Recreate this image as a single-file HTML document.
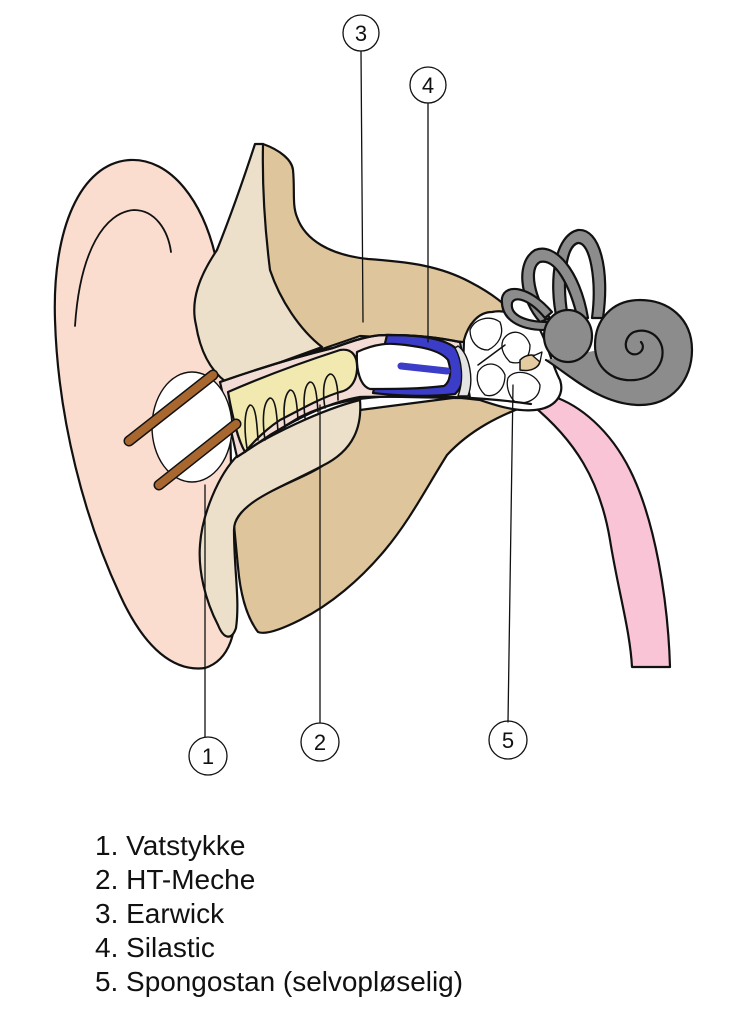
<!DOCTYPE html>
<html><head><meta charset="utf-8"><style>
html,body{margin:0;padding:0;background:#fff;}
svg{display:block;}
</style></head><body>
<svg width="751" height="1024" viewBox="0 0 751 1024" xmlns="http://www.w3.org/2000/svg" font-family="Liberation Sans, sans-serif">
<g stroke="#111" stroke-width="2.2" stroke-linejoin="round" stroke-linecap="round">
<!-- pink tube -->
<path d="M531,404 C575,440 600,480 610,540 C618,590 630,630 632,667 L670,667 C668,600 655,520 630,470 C610,430 580,405 552,396 Z" fill="#f8c4d6"/>
<!-- outer ear -->
<path d="M218,268 C205,200 170,158 130,160 C80,163 52,230 55,320 C58,420 85,520 120,595 C145,650 175,672 205,668 C230,660 238,630 234,600 L230,420 Z" fill="#fbddd0"/>
<path d="M75,326 C80,250 105,212 134,210 C155,210 168,230 171,252" fill="none" stroke-width="1.8"/>
<!-- upper tan -->
<path d="M263,144 C280,150 292,160 293,170 C295,190 292,205 297,217 C305,240 330,255 368,259 C410,262 440,266 470,282 C495,295 505,305 512,312 L500,335 L464,342 L360,336 L226,382 L217,250 Z" fill="#dfc59b"/>
<!-- light beige tragus -->
<path d="M255,144 C240,190 225,230 217,250 C200,275 190,300 196,325 C200,350 210,370 226,382 L322,347 C300,330 280,300 270,270 C265,230 262,190 263,144 Z" fill="#ede0ca"/>
<!-- lower tan -->
<path d="M531,404 C500,415 470,430 447,455 C425,490 410,520 385,550 C360,580 330,605 300,620 C280,630 265,635 258,632 C245,615 240,590 238,567 L234,525 C240,510 250,505 255,500 C280,485 310,475 322,466 C345,450 358,430 360,410 L468,396 Z" fill="#dfc59b"/>
<!-- lower light -->
<path d="M238,455 C270,435 320,410 360,400 C362,425 355,450 322,466 C300,478 270,490 252,503 C240,512 234,520 234,530 C234,570 240,600 236,628 C232,640 224,640 218,625 C205,600 198,570 200,545 C202,515 218,475 238,455 Z" fill="#ede0ca"/>
<!-- ossicles white -->
<path d="M464,340 C468,325 478,312 492,312 C510,308 525,320 540,330 C548,345 552,365 560,380 C565,395 555,408 535,410 C515,412 495,405 480,400 L462,398 Z" fill="#fff"/>
<path d="M470,330 C475,318 490,315 500,322 C505,335 498,345 488,350 C478,350 470,342 470,330 Z M503,340 C510,328 525,330 530,345 C530,360 520,365 510,362 C503,355 500,348 503,340 Z M478,372 C485,360 500,362 505,375 C505,390 495,398 485,395 C478,388 476,380 478,372 Z M508,378 C515,368 535,372 540,385 C540,400 525,405 515,402 C508,395 506,385 508,378 Z" fill="#fff" stroke-width="1.3"/>
<path d="M478,365 L505,345 M520,360 C525,355 535,352 540,360 C540,368 530,372 520,370 Z" fill="#e5cba0" stroke-width="1.5"/>
<path d="M533,356 L542,352 L540,362 Z" fill="#fff" stroke-width="1.3"/>
<!-- canal -->
<path d="M220,382 C260,368 300,356 333,348 C355,340 370,335 387,335 C420,335 440,338 460,342 L470,398 C430,398 400,396 360,397 C330,402 300,417 270,435 C255,445 245,452 237,457 Z" fill="#f3dcd6"/>
<!-- HT meche yellow -->
<path d="M228,392 C260,378 300,363 340,350 C352,348 358,356 357,370 C356,382 350,390 340,392 C320,398 300,410 280,420 C265,430 255,440 245,452 C238,440 233,420 228,392 Z" fill="#f1e9b0"/>
<path d="M247,448 C244,430 244,410 250,405 C256,405 257,425 258,440 M265,440 C262,420 263,402 270,398 C276,398 277,418 278,432 M285,428 C283,410 284,395 290,390 C296,390 297,405 298,420 M305,418 C303,400 304,385 310,382 C316,382 317,398 318,412 M325,408 C322,390 324,377 330,374 C336,374 338,388 338,400" fill="none" stroke-width="1.6"/>
<!-- earwick white + blue -->
<path d="M387,335 C420,335 445,338 458,350 C466,365 465,385 455,394 C430,397 400,396 373,393 Z" fill="#3b3dc8"/>
<path d="M458,346 C470,355 474,380 468,396 L458,396 C464,380 462,360 455,348 Z" fill="#e4e4e4" stroke-width="1.4"/>
<path d="M357,352 C370,346 382,343 395,344 C420,346 440,350 448,360 C452,372 450,382 444,386 C420,389 395,389 370,389 C360,386 356,370 357,352 Z" fill="#fff"/>
<path d="M401,366 L447,371" stroke="#3b3dc8" stroke-width="7"/>
<!-- canal outlines -->
<path d="M220,382 C260,368 300,356 333,348 C355,340 370,335 387,335 C420,335 440,338 460,342" fill="none"/>
<path d="M237,457 C255,445 270,435 300,417 C330,402 360,397 400,396 C440,396 490,398 531,404" fill="none"/>
<!-- cotton ball -->
<ellipse cx="192" cy="427" rx="40" ry="55" fill="#fff" stroke-width="1.4"/>
<path d="M129,441 L213,375" stroke="#111" stroke-width="11"/>
<path d="M129,441 L213,375" stroke="#a8672f" stroke-width="8"/>
<path d="M159,485 L236,424" stroke="#111" stroke-width="11"/>
<path d="M159,485 L236,424" stroke="#a8672f" stroke-width="8"/>
<!-- inner ear gray -->
<path d="M557,320 C548,280 555,235 578,230 C600,228 610,270 603,318 L592,318 C597,280 590,242 578,243 C565,246 562,285 568,318 Z" fill="#8c8c8c"/>
<path d="M540,322 C520,300 515,262 535,250 C555,242 580,270 588,318 L578,320 C570,285 555,258 540,262 C528,268 535,300 550,318 Z" fill="#8c8c8c"/>
<path d="M545,330 C520,330 500,320 502,298 C505,283 530,286 552,312 L545,318 C530,300 515,295 512,303 C510,315 525,322 548,322 Z" fill="#8c8c8c"/>
<path d="M546,360 C570,375 600,405 640,405 C672,405 692,380 692,350 C692,318 668,300 640,300 C612,300 595,320 595,345 C595,368 612,382 635,380 C655,378 665,362 662,347 C658,333 645,328 634,332 C625,336 622,350 632,354 C640,356 646,348 641,342" fill="#8c8c8c"/>
<ellipse cx="568" cy="336" rx="24" ry="26" fill="#8c8c8c"/>
<!-- leader lines -->
<g stroke-width="1.3" fill="none">
<line x1="361" y1="51" x2="363" y2="322"/>
<line x1="428" y1="103" x2="428" y2="342"/>
<line x1="205" y1="737" x2="205" y2="485"/>
<line x1="320" y1="723" x2="320" y2="405"/>
<line x1="508" y1="722" x2="513" y2="385"/>
<circle cx="361" cy="33" r="18"/>
<circle cx="428" cy="85" r="18"/>
<circle cx="208" cy="756" r="19"/>
<circle cx="320" cy="742" r="19"/>
<circle cx="508" cy="740" r="19"/>
</g>
</g>
<g font-size="22" fill="#111" text-anchor="middle">
<text x="361" y="41">3</text>
<text x="428" y="93">4</text>
<text x="208" y="764">1</text>
<text x="320" y="750">2</text>
<text x="508" y="748">5</text>
</g>
<g font-size="28" fill="#111">
<text x="95" y="855">1. Vatstykke</text>
<text x="95" y="889">2. HT-Meche</text>
<text x="95" y="923">3. Earwick</text>
<text x="95" y="957">4. Silastic</text>
<text x="95" y="991" textLength="368" lengthAdjust="spacingAndGlyphs">5. Spongostan (selvopløselig)</text>
</g>
</svg>
</body></html>
